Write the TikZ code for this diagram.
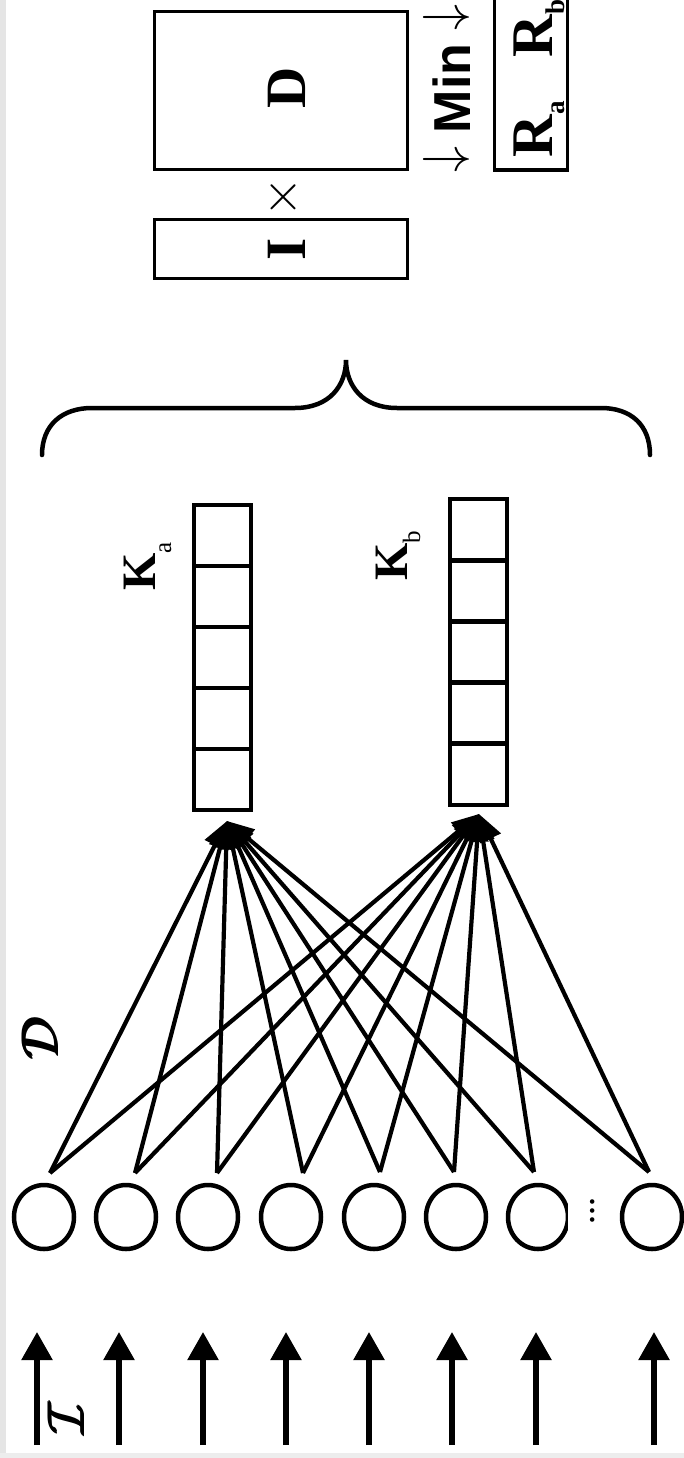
\RequirePackage{fix-cm}
\documentclass[tikz,border=0pt]{standalone}
\usepackage{amsmath}
\usepackage{fontspec}
\setmainfont{Liberation Serif}
\newfontfamily\arialfam{Liberation Sans}
\usetikzlibrary{arrows.meta,shapes.geometric}
\newcommand{\fs}[1]{\fontsize{#1}{#1}\selectfont}
\begin{document}
\begin{tikzpicture}[x=1pt,y=-1pt,
  box/.style={draw,line width=3.5pt,inner sep=0pt},
  cell/.style={draw,line width=4.5pt,inner sep=0pt,minimum width=57pt,minimum height=61pt},
  neuron/.style={draw,ellipse,line width=4.5pt,inner sep=0pt,minimum width=60pt,minimum height=64pt},
  conn/.style={line width=4.2pt,-{Triangle[length=27pt,width=22pt]}},
  inarrow/.style={line width=5.5pt,-{Triangle[length=28pt,width=30pt]}},
  rot/.style={rotate=90,inner sep=0pt},
  bracestyle/.style={line width=4.5pt,line cap=round}
]
\useasboundingbox (0,0) rectangle (684,1458);
\clip (0,0) rectangle (684,1458);
\fill[white] (0,0) rectangle (684,1458);
\fill[black!10] (0,0) rectangle (6,1458);
\fill[black!7] (0,1453) rectangle (684,1458);

% I x D -> Min -> R
\node[box,minimum width=253pt,minimum height=59pt] (Ibox) at (281,249) {};
\node[rot,anchor=base] (Itxt) at (305,249) {\fs{57}\textbf{I}};
\node[box,minimum width=253pt,minimum height=158pt] (Dbox) at (281,90.5) {};
\node[rot,anchor=base] (Dtxt) at (305,88) {\fs{57}\textbf{D}};
\node[rot] (times) at (283,197) {\fs{52}$\times$};
\node[rot,anchor=base] (min) at (470,88.5) {\fs{52}\raisebox{0.194em}{$\downarrow$} {\arialfam\bfseries Min} \raisebox{0.194em}{$\downarrow$}};
\node[box,minimum width=73pt,minimum height=190pt] (Rbox) at (531,75) {};
\node[rot,anchor=base west] (Ra) at (552,158) {\fs{59}\textbf{R}\raisebox{-12pt}{\fs{27}\textbf{a}}};
\node[rot,anchor=base west] (Rb) at (552,58) {\fs{59}\textbf{R}\raisebox{-12pt}{\fs{27}\textbf{b}}};

% brace
\draw[bracestyle] (42,455) .. controls (42,425) and (62,408) .. (92,408) -- (295,408)
  .. controls (330,408) and (346,385) .. (346,360)
  .. controls (346,385) and (362,408) .. (397,408) -- (601,408)
  .. controls (631,408) and (650,425) .. (650,455);

% K vectors
\foreach \i/\y in {1/535.5,2/596.5,3/657.5,4/718.5,5/779.5}
  \node[cell] (Ka\i) at (222.5,\y) {};
\foreach \i/\y in {1/529.6,2/590.8,3/652,4/713.2,5/774.4}
  \node[cell] (Kb\i) at (478.5,\y) {};
\node[rot,anchor=base west] (Kalab) at (155,591) {\fs{48}\textbf{K}\raisebox{-16pt}{\fs{25}a}};
\node[rot,anchor=base west] (Kblab) at (407,581) {\fs{48}\textbf{K}\raisebox{-13pt}{\fs{25}b}};

% neurons
\foreach \i/\x in {1/44,2/126,3/208,4/291,5/374,6/456,7/538,8/652}
  \node[neuron] (n\i) at (\x,1217) {};
\node[rot,fill=white,minimum width=80pt,minimum height=50pt] (dots) at (593,1211) {\fs{28}\textbf{.\kern2pt.\kern2pt.}};

% connectors
\coordinate (ta) at (227,821);
\coordinate (tb) at (479,814);
\foreach \i/\x/\y in {1/50/1173,2/135/1173,3/217/1173,4/303/1173,5/380/1172,6/454/1172,7/534/1172,8/649/1172}
  \coordinate (s\i) at (\x,\y);
\foreach \i in {1,...,8}{
  \draw[conn] (s\i) -- (ta);
  \draw[conn] (s\i) -- (tb);
}

% inputs
\foreach \i/\x in {1/37,2/119,3/203,4/286,5/369,6/452,7/536,8/654}{
  \coordinate (b\i) at (\x,1445);
  \coordinate (t\i) at (\x,1332);
  \draw[inarrow] (b\i) -- (t\i);
}
\node[rot] (Ilab) at (66,1417) {\fs{52}$\pmb{\mathcal{I}}$};
\node[rot] (Dlab) at (40,1037) {\fs{52}$\pmb{\mathcal{D}}$};
\end{tikzpicture}
\end{document}
